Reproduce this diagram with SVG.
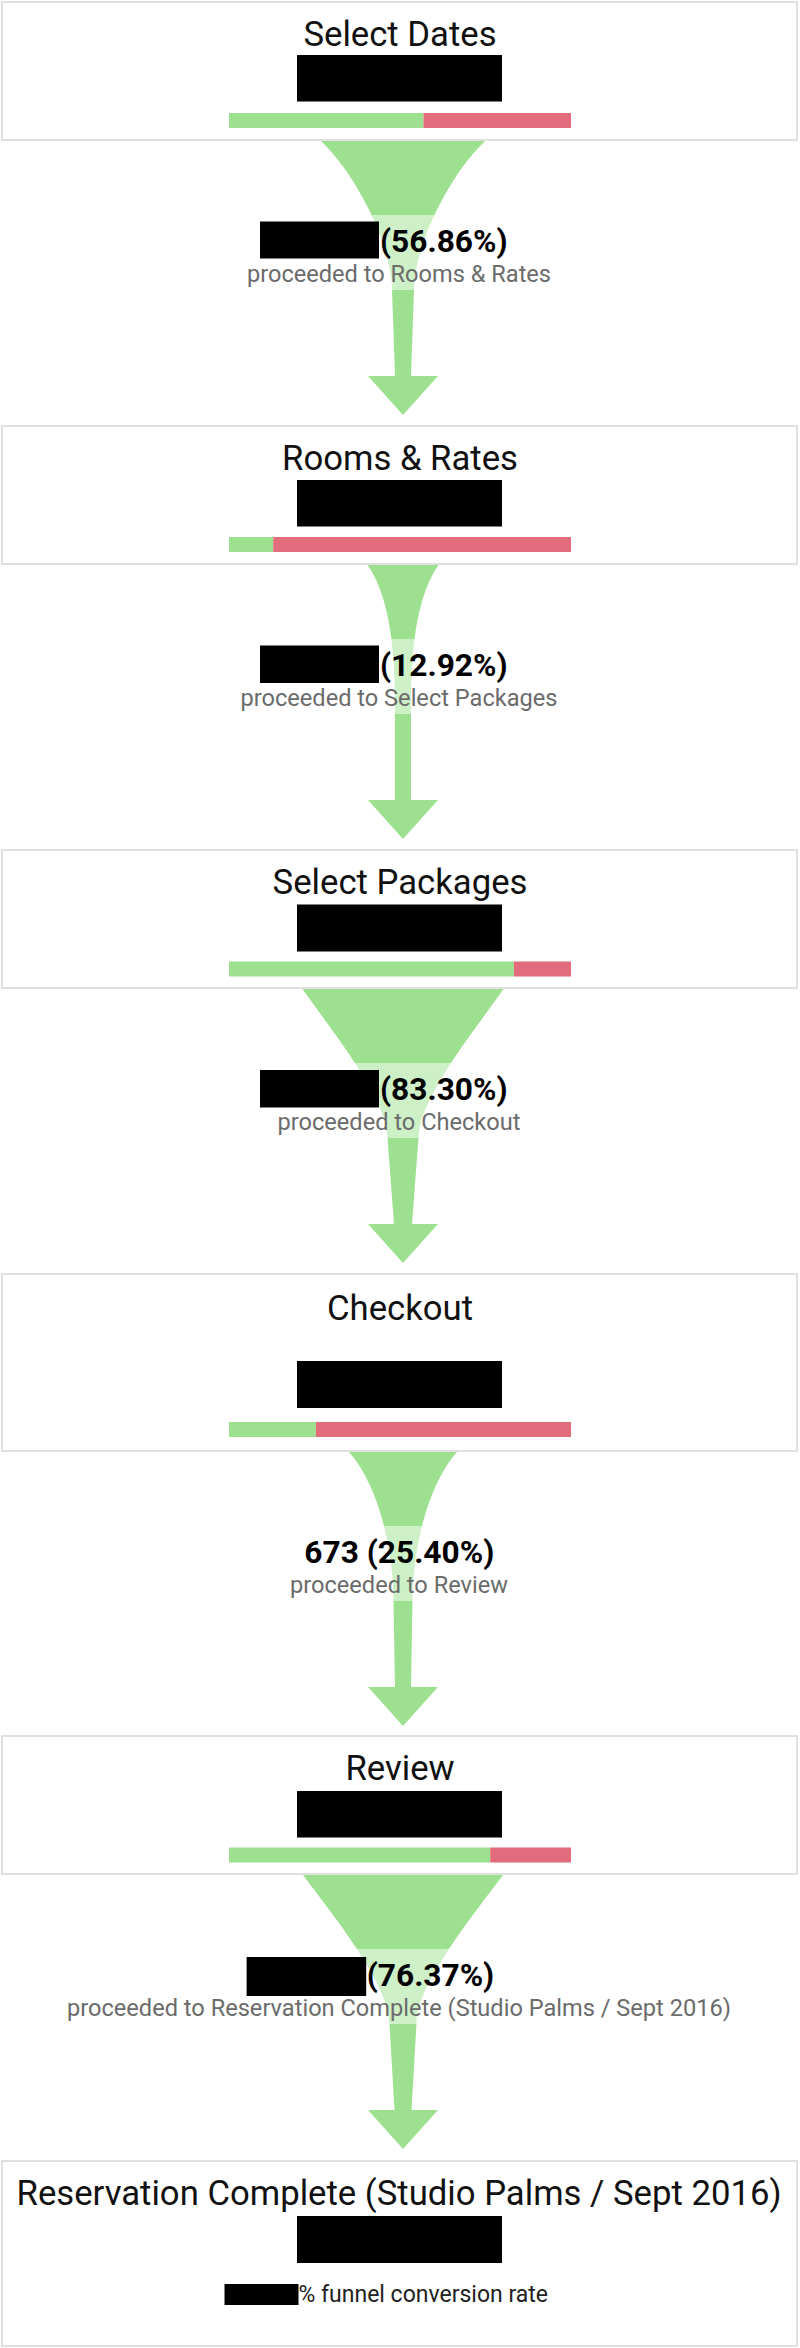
<svg xmlns="http://www.w3.org/2000/svg" width="800" height="2348" viewBox="0 0 800 2348">
<style>
  .box { fill: #ffffff; stroke: #e0e0e0; stroke-width: 2; }
  .title { font-family: Roboto, "Liberation Sans", sans-serif; font-size: 34.7px; fill: #111111; text-anchor: middle; }
  .redact { fill: #000000; }
  .ok { fill: #9de08f; }
  .drop { fill: #e26c7b; }
  .funnel { fill: #9de08f; }
  .band { fill: #ffffff; fill-opacity: 0.5; }
  .pct { font-family: Roboto, "Liberation Sans", sans-serif; font-size: 31.7px; font-weight: 700; fill: #000000; }
  .sub { font-family: Roboto, "Liberation Sans", sans-serif; font-size: 23.6px; fill: #6b6b6b; text-anchor: middle; }
  .conv { font-family: Roboto, "Liberation Sans", sans-serif; font-size: 23px; fill: #222222; }
</style>
<rect x="0" y="0" width="800" height="2348" fill="#ffffff"/>

<g id="connectors">
  <g id="flow1">
    <path class="funnel" d="M321 141 C361 179.7 392 250 392 290 L395 376 L368 376 L403 415 L438 376 L411 376 L414 290 C414 250 445 179.7 485 141 Z"/>
    <rect class="band" x="300" y="215" width="206" height="75"/>
    <rect class="redact" x="260" y="221.5" width="119" height="37"/>
    <text class="pct" x="380" y="252">(56.86%)</text>
    <text class="sub" x="399" y="281.5">proceeded to Rooms &amp; Rates</text>
  </g>
  <g id="flow2">
    <path class="funnel" d="M367.5 565 C394.8 603.7 395 674 395 714 L395 800 L368 800 L403 839 L438 800 L411 800 L411 714 C411 674 411.2 603.7 438.5 565 Z"/>
    <rect class="band" x="300" y="639" width="206" height="75"/>
    <rect class="redact" x="260" y="645.5" width="119" height="37.5"/>
    <text class="pct" x="380" y="676">(12.92%)</text>
    <text class="sub" x="399" y="705.5">proceeded to Select Packages</text>
  </g>
  <g id="flow3">
    <path class="funnel" d="M302.5 989 C329.2 1027.7 387.5 1098 387.5 1138 L394 1224 L368 1224 L403 1263 L438 1224 L412 1224 L418.5 1138 C418.5 1098 476.8 1027.7 503.5 989 Z"/>
    <rect class="band" x="300" y="1063" width="206" height="75"/>
    <rect class="redact" x="260" y="1070" width="119" height="37.5"/>
    <text class="pct" x="380" y="1100">(83.30%)</text>
    <text class="sub" x="399" y="1129.5">proceeded to Checkout</text>
  </g>
  <g id="flow4">
    <path class="funnel" d="M349 1452 C383 1490.7 393.5 1561 393.5 1601 L395 1687 L368 1687 L403 1726 L438 1687 L411 1687 L412.5 1601 C412.5 1561 423 1490.7 457 1452 Z"/>
    <rect class="band" x="300" y="1526" width="206" height="75"/>
    <text class="pct" x="399.3" y="1563" text-anchor="middle">673 (25.40%)</text>
    <text class="sub" x="399" y="1592.5">proceeded to Review</text>
  </g>
  <g id="flow5">
    <path class="funnel" d="M303 1875 C331.7 1913.7 389.5 1984 389.5 2024 L394.5 2110 L368 2110 L403 2149 L438 2110 L411.5 2110 L416.5 2024 C416.5 1984 474.3 1913.7 503 1875 Z"/>
    <rect class="band" x="300" y="1949" width="206" height="75"/>
    <rect class="redact" x="246.6" y="1957" width="119.6" height="39"/>
    <text class="pct" x="366.7" y="1985.5">(76.37%)</text>
    <text class="sub" x="399" y="2015.5">proceeded to Reservation Complete (Studio Palms / Sept 2016)</text>
  </g>
</g>

<g id="node1">
  <rect class="box" x="2" y="2" width="795" height="138"/>
  <text class="title" x="400" y="46">Select Dates</text>
  <rect class="redact" x="297" y="55" width="205" height="46.5"/>
  <rect class="ok" x="229" y="113" width="194.5" height="15"/>
  <rect class="drop" x="423.5" y="113" width="147.5" height="15"/>
</g>

<g id="node2">
  <rect class="box" x="2" y="426" width="795" height="138"/>
  <text class="title" x="400" y="470">Rooms &amp; Rates</text>
  <rect class="redact" x="297" y="480" width="205" height="46.5"/>
  <rect class="ok" x="229" y="537" width="44.2" height="15"/>
  <rect class="drop" x="273.2" y="537" width="297.8" height="15"/>
</g>

<g id="node3">
  <rect class="box" x="2" y="850" width="795" height="138"/>
  <text class="title" x="400" y="894">Select Packages</text>
  <rect class="redact" x="297" y="904.5" width="205" height="47"/>
  <rect class="ok" x="229" y="961.5" width="284.9" height="15"/>
  <rect class="drop" x="513.9" y="961.5" width="57.1" height="15"/>
</g>

<g id="node4">
  <rect class="box" x="2" y="1274" width="795" height="177"/>
  <text class="title" x="400" y="1320">Checkout</text>
  <rect class="redact" x="297" y="1361" width="205" height="47"/>
  <rect class="ok" x="229" y="1422" width="86.9" height="15"/>
  <rect class="drop" x="315.9" y="1422" width="255.1" height="15"/>
</g>

<g id="node5">
  <rect class="box" x="2" y="1736" width="795" height="138"/>
  <text class="title" x="400" y="1780">Review</text>
  <rect class="redact" x="297" y="1791" width="205" height="46.5"/>
  <rect class="ok" x="229" y="1847.5" width="261.2" height="15"/>
  <rect class="drop" x="490.2" y="1847.5" width="80.8" height="15"/>
</g>

<g id="node6">
  <rect class="box" x="2" y="2161" width="795" height="185"/>
  <text class="title" x="399" y="2205">Reservation Complete (Studio Palms / Sept 2016)</text>
  <rect class="redact" x="297" y="2216" width="205" height="47"/>
  <rect class="redact" x="224.5" y="2284" width="74" height="21"/>
  <text class="conv" x="298.5" y="2302">% funnel conversion rate</text>
</g>
</svg>
